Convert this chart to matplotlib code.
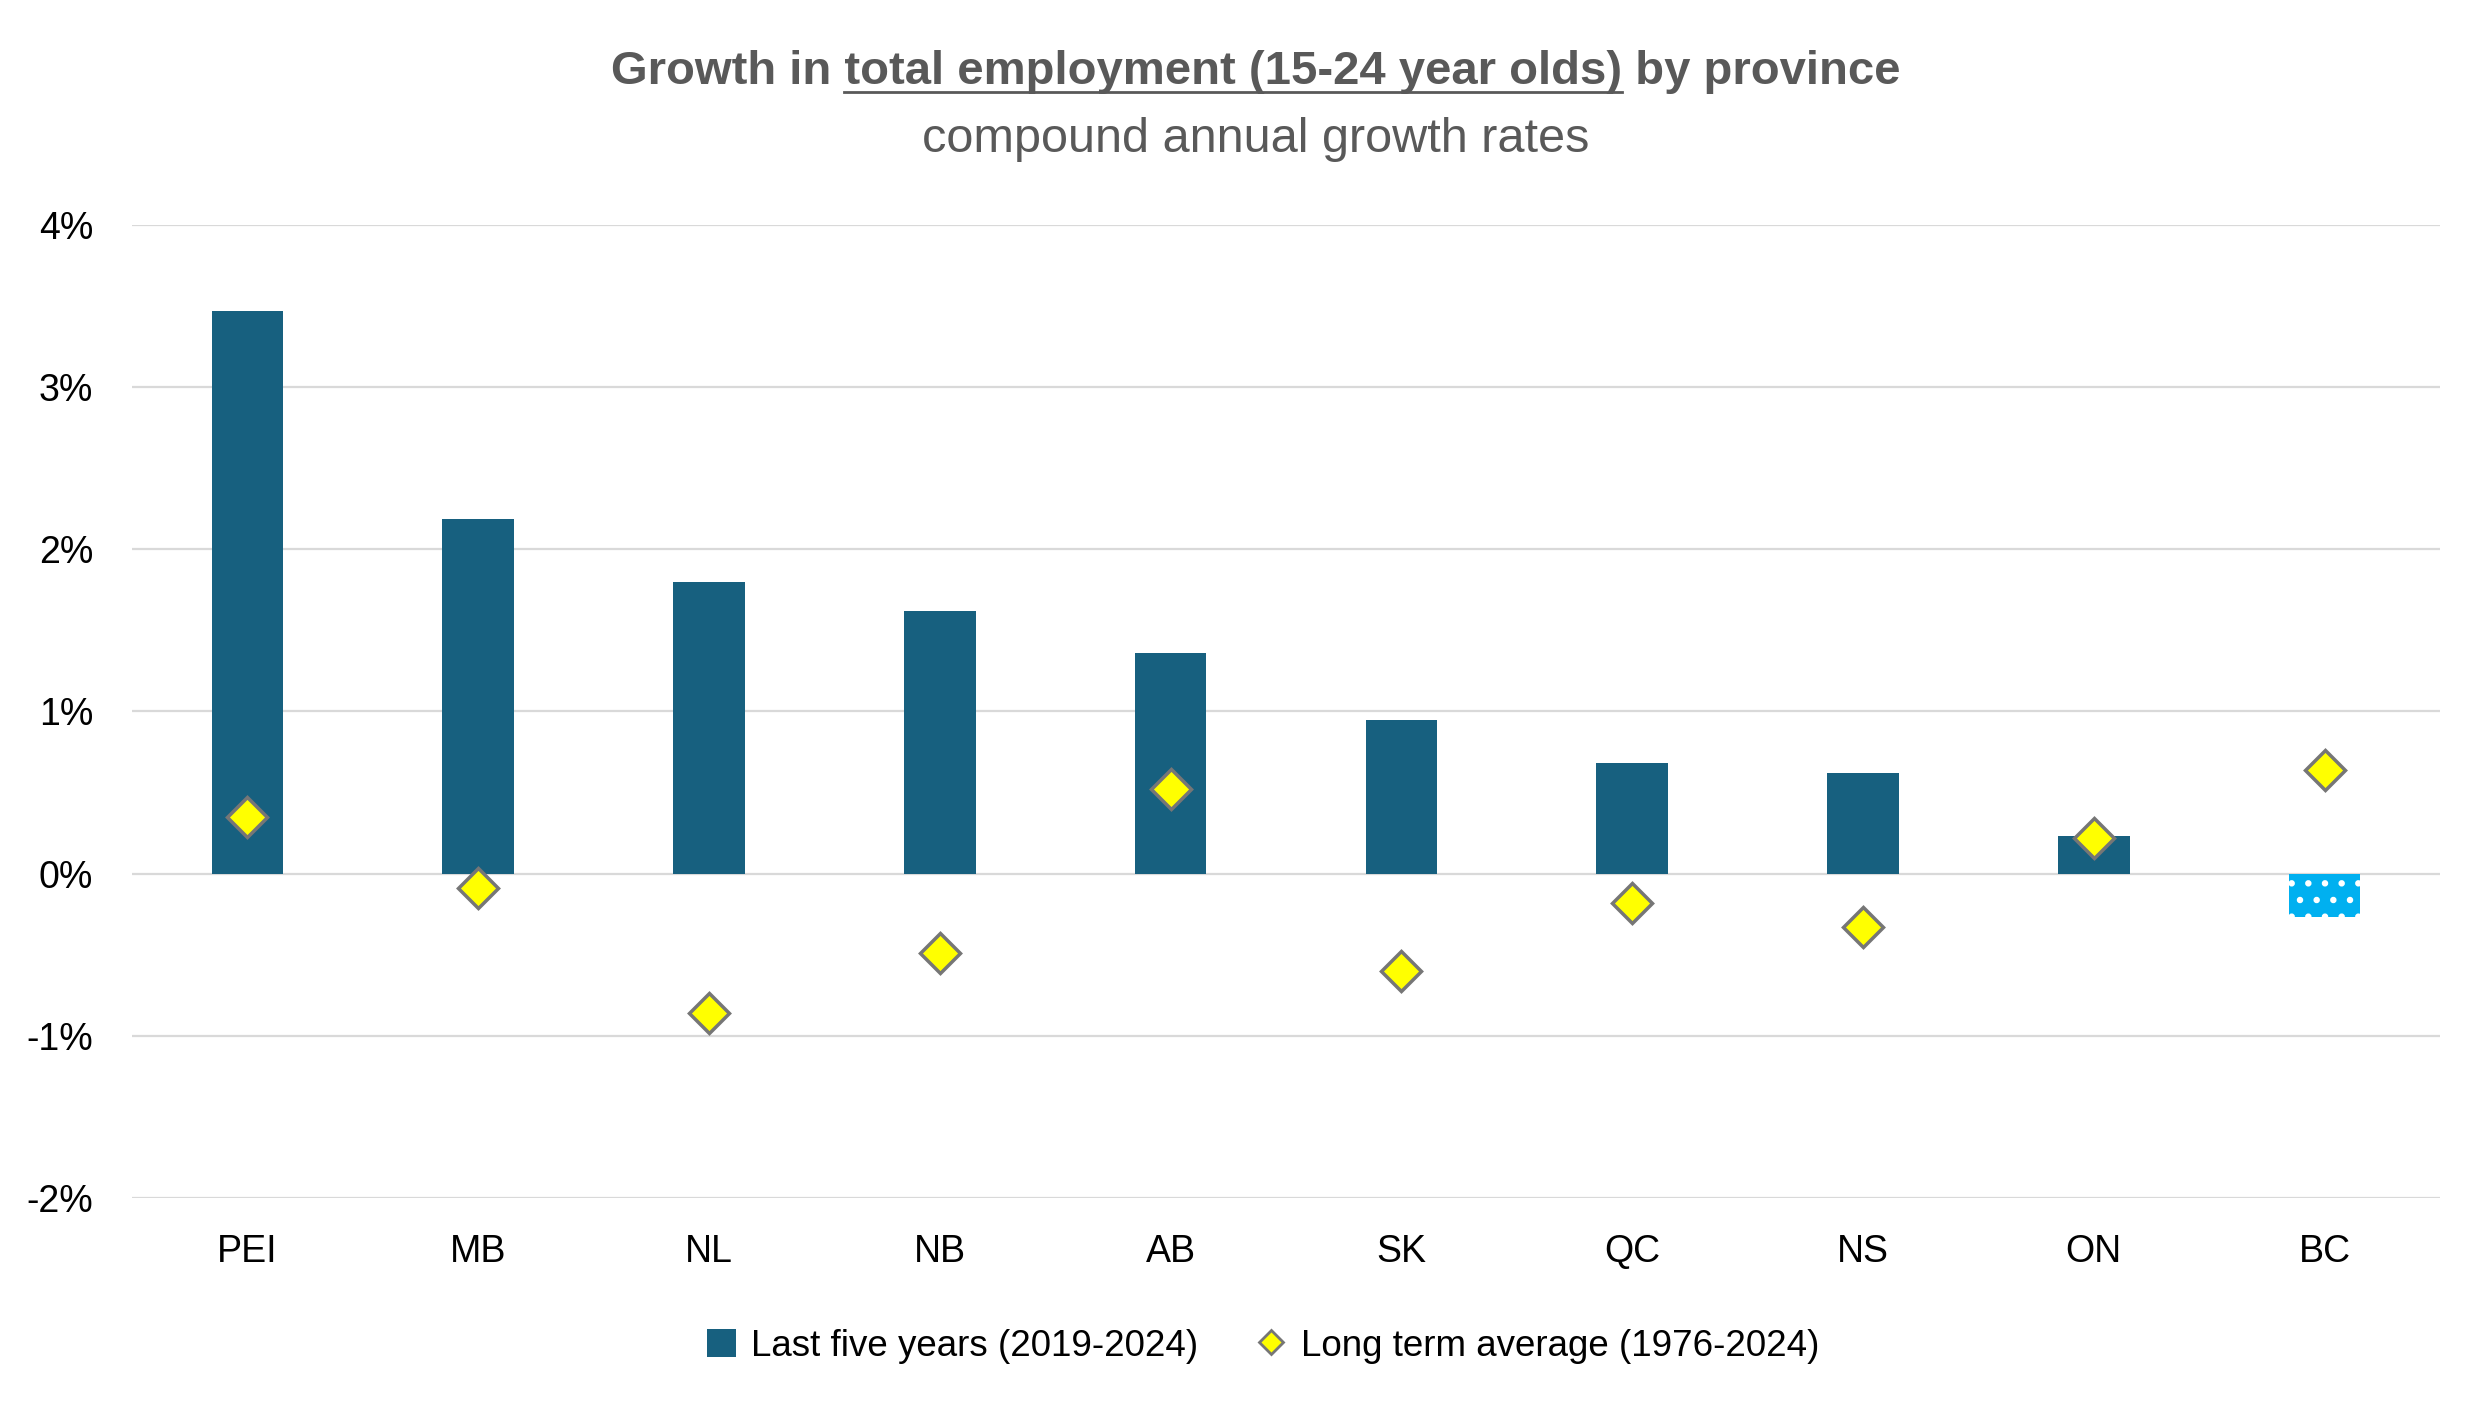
import matplotlib.pyplot as plt
from matplotlib.patches import Patch
from matplotlib.lines import Line2D
from matplotlib.ticker import FuncFormatter

# Chart data (percent, compound annual growth)
provinces = ['PEI', 'MB', 'NL', 'NB', 'AB', 'SK', 'QC', 'NS', 'ON', 'BC']
last_five = [3.47, 2.19, 1.80, 1.62, 1.36, 0.95, 0.68, 0.62, 0.23, -0.27]
long_term = [0.35, -0.09, -0.86, -0.49, 0.52, -0.60, -0.18, -0.33, 0.22, 0.64]
bar_label = 'Last five years (2019-2024)'
dot_label = 'Long term average (1976-2024)'

FONT = ['Liberation Sans', 'DejaVu Sans']
plt.rcParams['font.family'] = FONT
plt.rcParams['hatch.linewidth'] = 2.2

BAR_COLOR = '#17607F'
NEG_COLOR = '#00B0F0'
GRID = '#D9D9D9'
TITLE_GREY = '#595959'

fig = plt.figure(figsize=(24.91, 14.09), dpi=100)
ax = fig.add_axes([0.0530, 0.1498, 0.9265, 0.6905])

x = list(range(len(provinces)))
bars = ax.bar(x, last_five, width=0.31, color=BAR_COLOR, zorder=2)
# negative bar gets the light blue dotted fill
for b, v in zip(bars, last_five):
    if v < 0:
        b.set_facecolor(NEG_COLOR)
        b.set_edgecolor('white')
        b.set_linewidth(0)
        b.set_hatch('.')

ax.plot(x, long_term, linestyle='none', marker='D', markersize=20,
        markerfacecolor='#FFFF00', markeredgecolor='#767676',
        markeredgewidth=2.5, zorder=3)

ax.set_xlim(-0.5, len(provinces) - 0.5)
ax.set_ylim(-2, 4)
ax.set_yticks(range(-2, 5))
ax.yaxis.set_major_formatter(FuncFormatter(lambda v, p: f'{int(v)}%'))
ax.set_xticks(x)
ax.set_xticklabels(provinces)
ax.tick_params(axis='both', length=0, labelsize=27, labelcolor='black')
ax.tick_params(axis='x', pad=26)
ax.tick_params(axis='y', pad=28)
ax.grid(axis='y', color=GRID, linewidth=1.6, zorder=0)
ax.set_axisbelow(True)
for s in ax.spines.values():
    s.set_visible(False)

# Title with the middle part underlined
title = 'Growth in total employment (15-24 year olds) by province'
left_part = 'Growth in total employment (15-24 year olds)'
right_part = 'total employment (15-24 year olds) by province'
tsize = 34
tx, ty = 0.504, 1 - 72 / 1409
t = fig.text(tx, ty, title, ha='center', va='center', fontsize=tsize,
             fontweight='bold', color=TITLE_GREY)
fig.canvas.draw()
r = fig.canvas.get_renderer()
bb = t.get_window_extent(r)

def width_of(s):
    tmp = fig.text(0, 0, s, fontsize=tsize, fontweight='bold')
    w = tmp.get_window_extent(r).width
    tmp.remove()
    return w

u0 = bb.x1 - width_of(right_part)
u1 = bb.x0 + width_of(left_part)
uy = bb.y0 + 2
fig.add_artist(Line2D([u0 / fig.bbox.width, u1 / fig.bbox.width],
                      [uy / fig.bbox.height, uy / fig.bbox.height],
                      color=TITLE_GREY, linewidth=2))

fig.text(tx, 1 - 139 / 1409, 'compound annual growth rates', ha='center',
         va='center', fontsize=35, color=TITLE_GREY)

handles = [Patch(facecolor=BAR_COLOR, label=bar_label),
           Line2D([], [], linestyle='none', marker='D', markersize=12,
                  markerfacecolor='#FFFF00', markeredgecolor='#767676',
                  markeredgewidth=2, label=dot_label)]
fig.legend(handles=handles, loc='center', bbox_to_anchor=(0.507, 1 - 1346 / 1409),
           ncol=2, frameon=False, fontsize=26.5, handlelength=0.8, handleheight=0.8,
           handletextpad=0.4, columnspacing=1.6)

fig.savefig('out.png', dpi=100)
